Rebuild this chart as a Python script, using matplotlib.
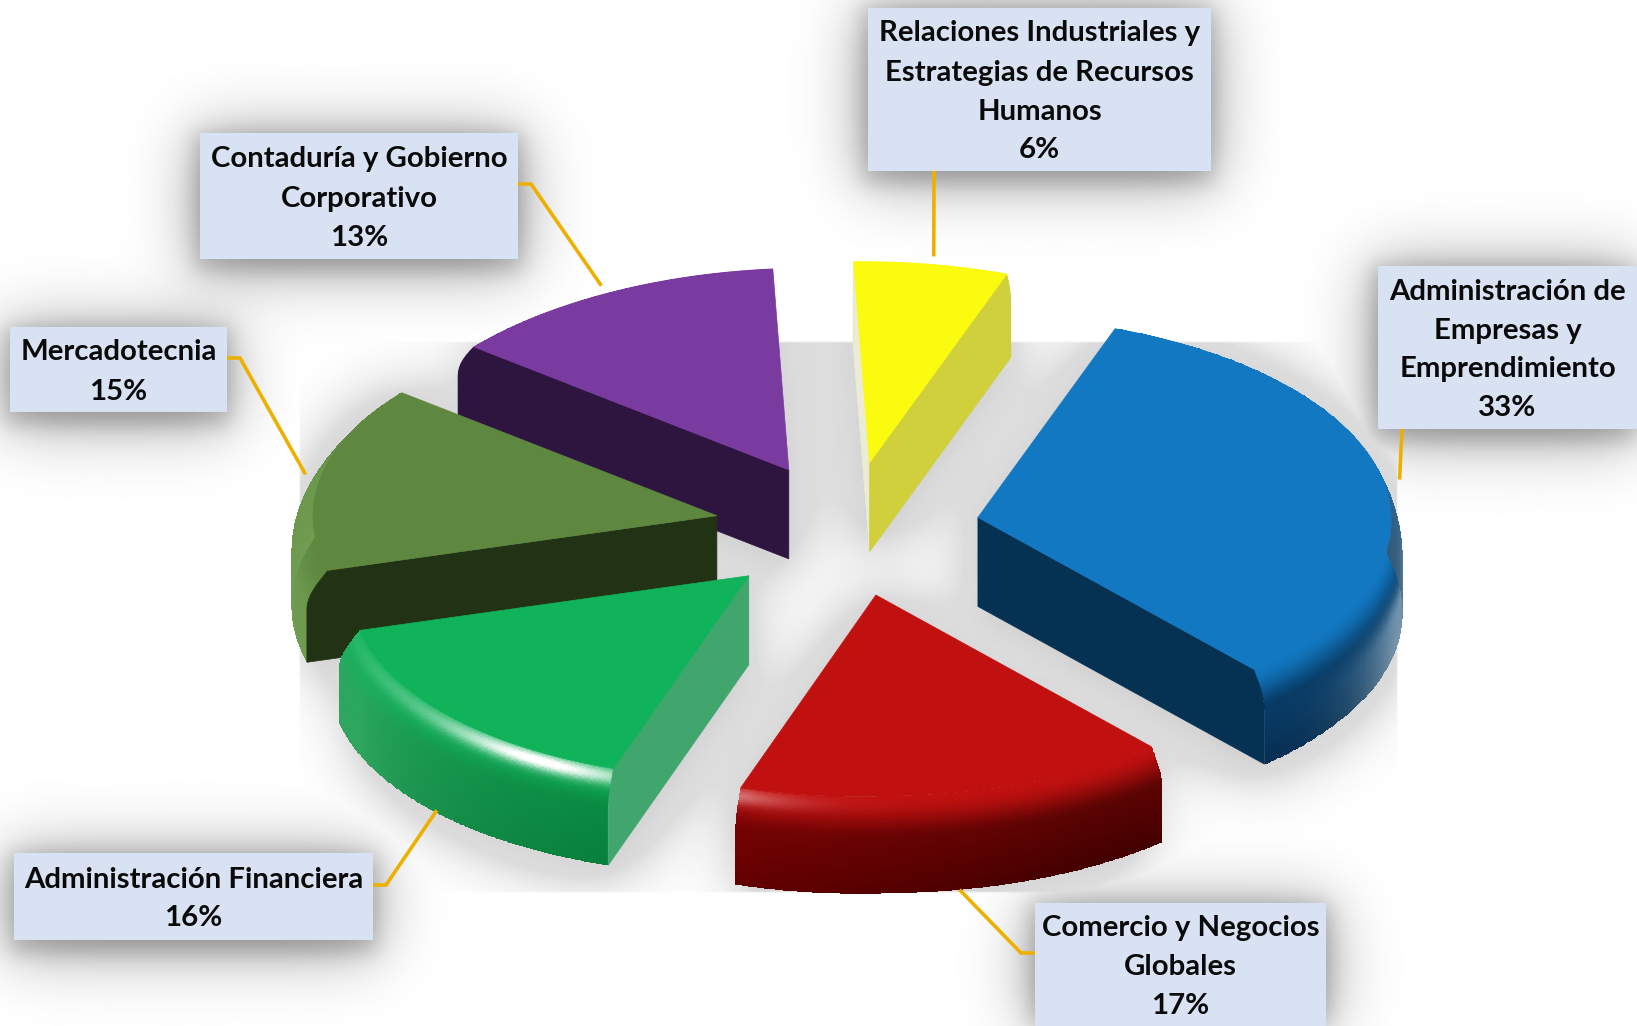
import numpy as np
import matplotlib
matplotlib.use('Agg')
import matplotlib.pyplot as plt
from matplotlib.path import Path
from matplotlib.colors import to_rgb

categorias = ['Relaciones Industriales y\nEstrategias de Recursos\nHumanos',
              'Administración de\nEmpresas y\nEmprendimiento',
              'Comercio y Negocios\nGlobales',
              'Administración Financiera',
              'Mercadotecnia',
              'Contaduría y Gobierno\nCorporativo']
valores = [6, 33, 17, 16, 15, 13]

# colores: cara superior, corte, pared oscura, pared clara
c_top = ['#FBFB10', '#1278C1', '#C11010', '#10B25A', '#5E8840', '#7A3BA0']
c_cut = ['#D0D03C', '#053153', '#8A0000', '#41A56E', '#223214', '#2E1540']
c_dark = ['#B0B030', '#032C50', '#420000', '#007A36', '#3A5A28', '#2E1540']
c_light = ['#D0D03C', '#7A96AC', '#8A0000', '#30A560', '#6F9C50', '#5A3A78']
luz_exp = [1.5, 1.5, 1.2, 3, 1.5, 1.5]
highlight = [0, 0, 0.6, 0.95, 0, 0]
explode = [0.334, 0.318, 0.334, 0.334, 0.334, 0.334]

# cajas de etiqueta y conectores (x0, y0, x1, y1) en pixeles
cajas = [(868, 8, 1211, 171), (1378, 266, 1637, 429), (1035, 903, 1326, 1026),
         (14, 853, 373, 940), (10, 327, 227, 412), (200, 133, 518, 259)]
conector = [[(934, 171)], [(1402, 429)], [(1035, 953), (1021, 953)],
            [(373, 885), (386, 885)], [(227, 358), (240, 358)], [(518, 184), (531, 184)]]
frente = [0, 0, 1, 1, 0, 0]
paso_linea = 39
base_linea = 10.5

W, H = 1637, 1026
cx, cy = 849, 529
Ax, Ay = -16, -201
Bx, By = 413, -5
depth = 89
orden = [5, 0, 1, 4, 3, 2]

# pequeña corrección de perspectiva en la mitad izquierda y ancho del bisel
k_ang = [0, 180, 201.6, 259.2, 313.2, 360]
k_dx = [0, 0, 2, 14, -3, 0]
k_dy = [0, 0, 4, 12, 11, 0]
d_ang = [0, 90, 140, 200, 260, 313, 360]
d_r = [0.03, 0.027, 0.04, 0.04, 0.055, 0.05, 0.03]

amarillo = '#EEB000'
caja_color = '#D9E2F3'


def P(t):
    t = np.asarray(t, dtype=float)
    r = np.radians(t)
    px = Ax * np.cos(r) + Bx * np.sin(r) + np.interp(t, k_ang, k_dx)
    py = Ay * np.cos(r) + By * np.sin(r) + np.interp(t, k_ang, k_dy)
    return px, py


def perfil(s, t):
    return 1 + np.interp(t, d_ang, d_r) * np.sin(np.pi / 2 * np.clip(s / 0.4, 0, 1))


def smooth(x):
    x = np.clip(x, 0, 1)
    return x * x * (3 - 2 * x)


limites = np.concatenate([[0], np.cumsum(valores) * 360.0 / sum(valores)])
apices = []
for i in range(len(valores)):
    mx, my = P((limites[i] + limites[i + 1]) / 2)
    apices.append((cx + explode[i] * mx, cy + explode[i] * my))


def cuna(i, dy=0):
    t = np.linspace(limites[i], limites[i + 1], 80)
    px, py = P(t)
    x = np.concatenate([[apices[i][0]], apices[i][0] + px])
    y = np.concatenate([[apices[i][1]], apices[i][1] + py]) + dy
    return x, y


# fondo con sombras difusas
step = 2
gx, gy = np.meshgrid(np.arange(0, W, step) + 1.0, np.arange(0, H, step) + 1.0)
pts = np.column_stack([gx.ravel(), gy.ravel()])


def blur(m, sigma):
    k = np.exp(-0.5 * (np.arange(-int(3 * sigma), int(3 * sigma) + 1) / sigma) ** 2)
    k = k / k.sum()
    m = np.apply_along_axis(lambda v: np.convolve(v, k, mode='same'), 0, m)
    m = np.apply_along_axis(lambda v: np.convolve(v, k, mode='same'), 1, m)
    return m


sil = np.zeros(gx.shape)
for i in range(len(valores)):
    for dy in [0, depth / 2, depth]:
        x, y = cuna(i, dy + 8)
        sil = np.maximum(sil, Path(np.column_stack([x, y])).contains_points(pts).reshape(gx.shape))
sombra_pie = np.minimum(blur(sil, 18) * 0.5, 0.135) + blur(sil, 6) * 0.05
dentro = (gx > 300) & (gx < 1399) & (gy > 342) & (gy < 893)
sombra_pie = sombra_pie * dentro

cajam = np.zeros(gx.shape)
for (x0, y0, x1, y1) in cajas:
    cajam[(gx > x0 - 6) & (gx < x1 + 6) & (gy > y0 - 2) & (gy < y1 + 14)] = 1
sombra_caja = blur(cajam, 5) * 0.15 + blur(cajam, 16) * 0.35

fondo = 1 - np.maximum(sombra_pie, sombra_caja)

fig = plt.figure(figsize=(W / 100, H / 100), dpi=100)
ax = fig.add_axes([0, 0, 1, 1])
ax.imshow(fondo, extent=(0, W, H, 0), cmap='gray', vmin=0, vmax=1, zorder=0,
          interpolation='bilinear', aspect='auto')

z = 2
for i in orden:
    ax_, ay_ = apices[i]

    # pared exterior
    t = np.linspace(limites[i], limites[i + 1], 200)
    s = np.linspace(0, 1, 70)
    T, S = np.meshgrid(t, s)
    px, py = P(T)
    R = perfil(S, T)
    X = ax_ + px * R
    Y = ay_ + py * R + depth * S
    Tc = (T[:-1, :-1] + T[1:, 1:]) / 2
    Sc = (S[:-1, :-1] + S[1:, 1:]) / 2
    g = np.where(Tc < 100, 0.4 + 0.6 * np.exp(-((Tc - 100) / 12) ** 2),
                 np.exp(-((Tc - 100) / 20) ** 2) * smooth((Sc - 0.15) / 0.5))
    luz = np.where(Tc >= 150, np.clip((Tc - 150) / 100, 0, 1) ** luz_exp[i], g)
    base = np.array(to_rgb(c_top[i]))
    oscuro = np.array(to_rgb(c_dark[i]))
    claro = np.array(to_rgb(c_light[i]))
    pared = oscuro + (claro - oscuro) * luz[..., None]
    pared = pared + (base - pared) * (0.3 * (1 - Sc))[..., None]
    w = smooth(Sc / 0.38)[..., None]
    color = base * (1 - w) + pared * w
    h = highlight[i] * (np.exp(-((Tc - 212) / 15) ** 2) + 0.25 * np.exp(-((Tc - 232) / 25) ** 2))
    h = np.clip(h * np.exp(-((Sc - 0.07) / 0.07) ** 2), 0, 1)[..., None]
    color = color * (1 - h) + h
    ax.pcolormesh(X, Y, np.clip(color, 0, 1), shading='flat', zorder=z)
    z += 1

    # caras de corte visibles
    for lado, ang, normal in [(0, limites[i], limites[i] - 90), (1, limites[i + 1], limites[i + 1] + 90)]:
        if P(normal % 360)[1] <= 0:
            continue
        ex, ey = P(ang)
        sp = np.linspace(0, 1, 30)
        fx = ax_ + ex * perfil(sp, ang)
        fy = ay_ + ey * perfil(sp, ang) + depth * sp
        xs = np.concatenate([[ax_], fx, [ax_]])
        ys = np.concatenate([[ay_], fy, [ay_ + depth]])
        col = c_cut[i]
        if i == 0 and lado == 0:
            col = '#ECECD6'
        ax.fill(xs, ys, color=col, lw=0.5, zorder=z)
        z += 1

    # cara superior
    x, y = cuna(i)
    ax.fill(x, y, color=c_top[i], lw=0.5, zorder=z)
    z += 1

# conectores
for i in range(len(valores)):
    mid = (limites[i] + limites[i + 1]) / 2
    mx, my = P(mid)
    tip = (apices[i][0] + 1.04 * mx, apices[i][1] + 1.04 * my + frente[i] * depth)
    xs = [p[0] for p in conector[i]] + [tip[0]]
    ys = [p[1] for p in conector[i]] + [tip[1]]
    ax.plot(xs, ys, color=amarillo, lw=2.6, solid_capstyle='butt', solid_joinstyle='miter', zorder=z)

# etiquetas
z += 1
for i in range(len(valores)):
    x0, y0, x1, y1 = cajas[i]
    ax.fill([x0, x1, x1, x0], [y0, y0, y1, y1], color=caja_color, lw=0, zorder=z)
    lineas = (categorias[i] + '\n%d%%' % valores[i]).split('\n')
    for k, linea in enumerate(lineas):
        yt = (y0 + y1) / 2 + (k - (len(lineas) - 1) / 2) * paso_linea + base_linea
        ax.text((x0 + x1) / 2, yt, linea, ha='center', va='baseline', family='Lato', weight='bold',
                fontsize=21.2, color='#0A0A0A', zorder=z + 1)

ax.set_xlim(0, W)
ax.set_ylim(H, 0)
ax.axis('off')
plt.savefig('out.png', dpi=100)
